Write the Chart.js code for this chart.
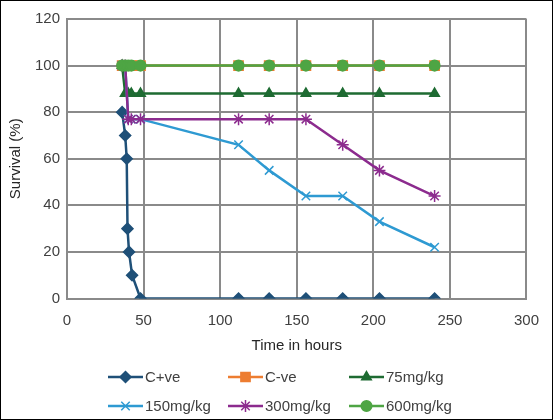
<!DOCTYPE html>
<html>
<head>
<meta charset="utf-8">
<script src="https://cdn.jsdelivr.net/npm/chart.js@4"></script>
<style>
  body { margin: 0; background: #fff; }
  #wrap { width: 553px; height: 420px; box-sizing: border-box; border: 1px solid #000; }
  canvas { display: block; }
</style>
</head>
<body>
<div id="wrap"><canvas id="chart" width="551" height="418"></canvas></div>
<script>
// time points (hours)
const hoursCpos = [36, 38, 39, 39.5, 40.5, 42.5, 48, 112, 132, 156, 180, 204, 240];
const hours = [36, 38, 40, 42, 48, 112, 132, 156, 180, 204, 240];

// survival (%)
const survCpos = [80, 70, 60, 30, 20, 10, 0, 0, 0, 0, 0, 0, 0];
const survCneg = [100, 100, 100, 100, 100, 100, 100, 100, 100, 100, 100];
const surv75 = [100, 88, 88, 88, 88, 88, 88, 88, 88, 88, 88];
const surv150 = [100, 100, 77, 77, 77, 66, 55, 44, 44, 33, 22];
const surv300 = [100, 100, 77, 77, 77, 77, 77, 77, 66, 55, 44];
const surv600 = [100, 100, 100, 100, 100, 100, 100, 100, 100, 100, 100];

const xTicks = [0, 50, 100, 150, 200, 250, 300];
const yTicks = [0, 20, 40, 60, 80, 100, 120];

const toPoints = (xs, ys) => xs.map((x, i) => ({ x: x, y: ys[i] }));

function series(label, xs, ys, color, style, radius, order) {
    return {
        label: label,
        data: toPoints(xs, ys),
        borderColor: color,
        backgroundColor: color,
        pointBackgroundColor: color,
        pointBorderColor: color,
        pointStyle: style,
        pointRadius: radius,
        pointBorderWidth: 1.5,
        borderWidth: 2.5,
        tension: 0,
        order: order, // later series drawn on top
    };
}

const datasets = [
    series('C+ve', hoursCpos, survCpos, '#1f5078', 'rectRot', 5.5, 6),
    series('C-ve', hours, survCneg, '#ed7d31', 'rect', 6.5, 5),
    series('75mg/kg', hours, surv75, '#1e6b32', 'triangle', 5.5, 4),
    series('150mg/kg', hours, surv150, '#2e9ad2', 'crossRot', 6, 3),
    series('300mg/kg', hours, surv300, '#8c2b8e', 'star', 6, 2),
    series('600mg/kg', hours, surv600, '#4ea544', 'circle', 5.3, 1),
];

// legend with line + marker, like the office-style chart
const lineLegend = {
    id: 'lineLegend',
    afterDraw(chart) {
        const ctx = chart.ctx;
        const cols = [107, 227, 348];
        const rows = [376, 405];
        chart.data.datasets.forEach((ds, i) => {
            const x = cols[i % 3];
            const y = rows[Math.floor(i / 3)];
            ctx.save();
            ctx.strokeStyle = ds.borderColor;
            ctx.lineWidth = ds.borderWidth;
            ctx.beginPath();
            ctx.moveTo(x, y);
            ctx.lineTo(x + 35, y);
            ctx.stroke();
            ctx.fillStyle = ds.pointBackgroundColor;
            ctx.strokeStyle = ds.pointBorderColor;
            ctx.lineWidth = ds.pointBorderWidth;
            Chart.helpers.drawPoint(ctx, {
                pointStyle: ds.pointStyle,
                radius: ds.pointRadius,
                borderWidth: ds.pointBorderWidth,
                rotation: 0,
            }, x + 17.5, y);
            ctx.fillStyle = '#404040';
            ctx.font = '15px "Liberation Sans", Arial, sans-serif';
            ctx.textAlign = 'left';
            ctx.textBaseline = 'middle';
            ctx.fillText(ds.label, x + 37, y + 1);
            ctx.restore();
        });
    }
};

const gridColor = '#8a8a8a';
const tickFont = { family: '"Liberation Sans", Arial, sans-serif', size: 15 };

new Chart(document.getElementById('chart'), {
    type: 'line',
    data: { datasets: datasets },
    plugins: [lineLegend],
    options: {
        responsive: false,
        animation: false,
        layout: { padding: { left: 0, top: 18, right: 21.5, bottom: 60.5 } },
        plugins: {
            legend: { display: false },
            tooltip: { enabled: false },
        },
        scales: {
            x: {
                type: 'linear',
                min: 0,
                max: 300,
                afterBuildTicks: (axis) => { axis.ticks = xTicks.map(v => ({ value: v })); },
                afterFit: (axis) => { axis.height = 60; },
                grid: { color: gridColor, lineWidth: 2, drawTicks: false },
                border: { color: gridColor, width: 2 },
                ticks: { font: tickFont, color: '#404040', padding: 13 },
                title: {
                    display: true,
                    text: 'Time in hours',
                    font: tickFont,
                    color: '#262626',
                    padding: { top: 0, bottom: 4 },
                },
            },
            y: {
                min: 0,
                max: 120,
                afterBuildTicks: (axis) => { axis.ticks = yTicks.map(v => ({ value: v })); },
                afterFit: (axis) => { axis.width = 66; },
                grid: { color: gridColor, lineWidth: 2, drawTicks: false },
                border: { color: gridColor, width: 2 },
                ticks: { font: tickFont, color: '#404040', padding: 7 },
                title: {
                    display: true,
                    text: 'Survival (%)',
                    font: tickFont,
                    color: '#262626',
                    padding: { top: 6, bottom: 0 },
                },
            },
        },
    },
});
</script>
</body>
</html>
